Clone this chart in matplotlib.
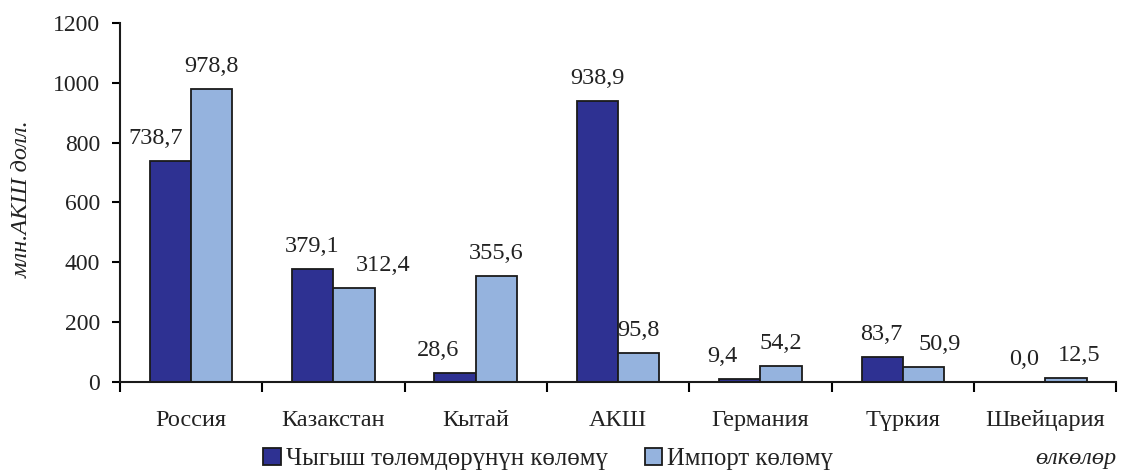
import numpy as np
import matplotlib.pyplot as plt
from matplotlib.ticker import FixedLocator, NullFormatter

plt.rcParams['font.family'] = ['Liberation Serif', 'DejaVu Serif']

countries = ['Россия', 'Казакстан', 'Кытай', 'АКШ', 'Германия', 'Түркия', 'Швейцария']
payments = [738.7, 379.1, 28.6, 938.9, 9.4, 83.7, 0.0]
imports = [978.8, 312.4, 355.6, 95.8, 54.2, 50.9, 12.5]

# horizontal nudges (px) for value labels so they don't collide
nudge_pay = [-15, -1, -17, 0, -17, -1, 0]
nudge_imp = [0, 29, 0, 0, 0, 16, 13]

dark = '#2E3192'
light = '#95B3DE'
fs = 17.5

fig = plt.figure(figsize=(11.3, 4.72), dpi=100)
ax = fig.add_axes([0.106, 0.191, 0.882, 0.760])

x = np.arange(len(countries)) + 0.5
w = 0.29
b1 = ax.bar(x - w / 2, payments, w, color=dark, edgecolor='#1a1a1a', linewidth=1.3,
            label='Чыгыш төлөмдөрүнүн көлөмү')
b2 = ax.bar(x + w / 2, imports, w, color=light, edgecolor='#1a1a1a', linewidth=1.3,
            label='Импорт көлөмү')

def fmt(v):
    return f'{v:.1f}'.replace('.', ',')

px = 72 / fig.dpi
for bars, vals, nudges in ((b1, payments, nudge_pay), (b2, imports, nudge_imp)):
    for r, v, dx in zip(bars, vals, nudges):
        ax.annotate(fmt(v), (r.get_x() + r.get_width() / 2, v),
                    xytext=(dx * px, 17 * px), textcoords='offset points',
                    ha='center', va='baseline', fontsize=fs, color='#222222')

ax.set_xlim(0, len(countries))
ax.set_ylim(0, 1200)
ax.set_yticks(np.arange(0, 1201, 200))
ax.xaxis.set_major_locator(FixedLocator(np.arange(len(countries) + 1)))
ax.xaxis.set_major_formatter(NullFormatter())
ax.xaxis.set_minor_locator(FixedLocator(x))
ax.set_xticklabels(countries, minor=True)
ax.tick_params(axis='x', which='major', direction='out', length=7, width=1.5)
ax.tick_params(axis='x', which='minor', length=0, pad=20, labelsize=fs, labelcolor='#222222')
ax.tick_params(axis='y', direction='out', length=6, width=1.5, labelsize=17, pad=8,
               labelcolor='#222222')

for s in ('top', 'right'):
    ax.spines[s].set_visible(False)
for s in ('left', 'bottom'):
    ax.spines[s].set_linewidth(1.5)
    ax.spines[s].set_color('#1a1a1a')

ax.set_ylabel('млн.АКШ долл.', fontsize=fs, style='italic', labelpad=12, color='#222222')
ax.yaxis.set_label_coords(-0.087, 0.51)
fig.text(0.988, 0.028, 'өлкөлөр', ha='right', va='center', fontsize=fs, style='italic',
         color='#222222')

leg = fig.legend(handles=[b1, b2], loc='center', bbox_to_anchor=(0.485, 0.028), ncol=2,
                 frameon=False, fontsize=17.8, handlelength=0.7, handleheight=0.7,
                 handletextpad=0.2, columnspacing=1.5)
for t in leg.get_texts():
    t.set_color('#222222')

fig.savefig('out.png', dpi=100)
